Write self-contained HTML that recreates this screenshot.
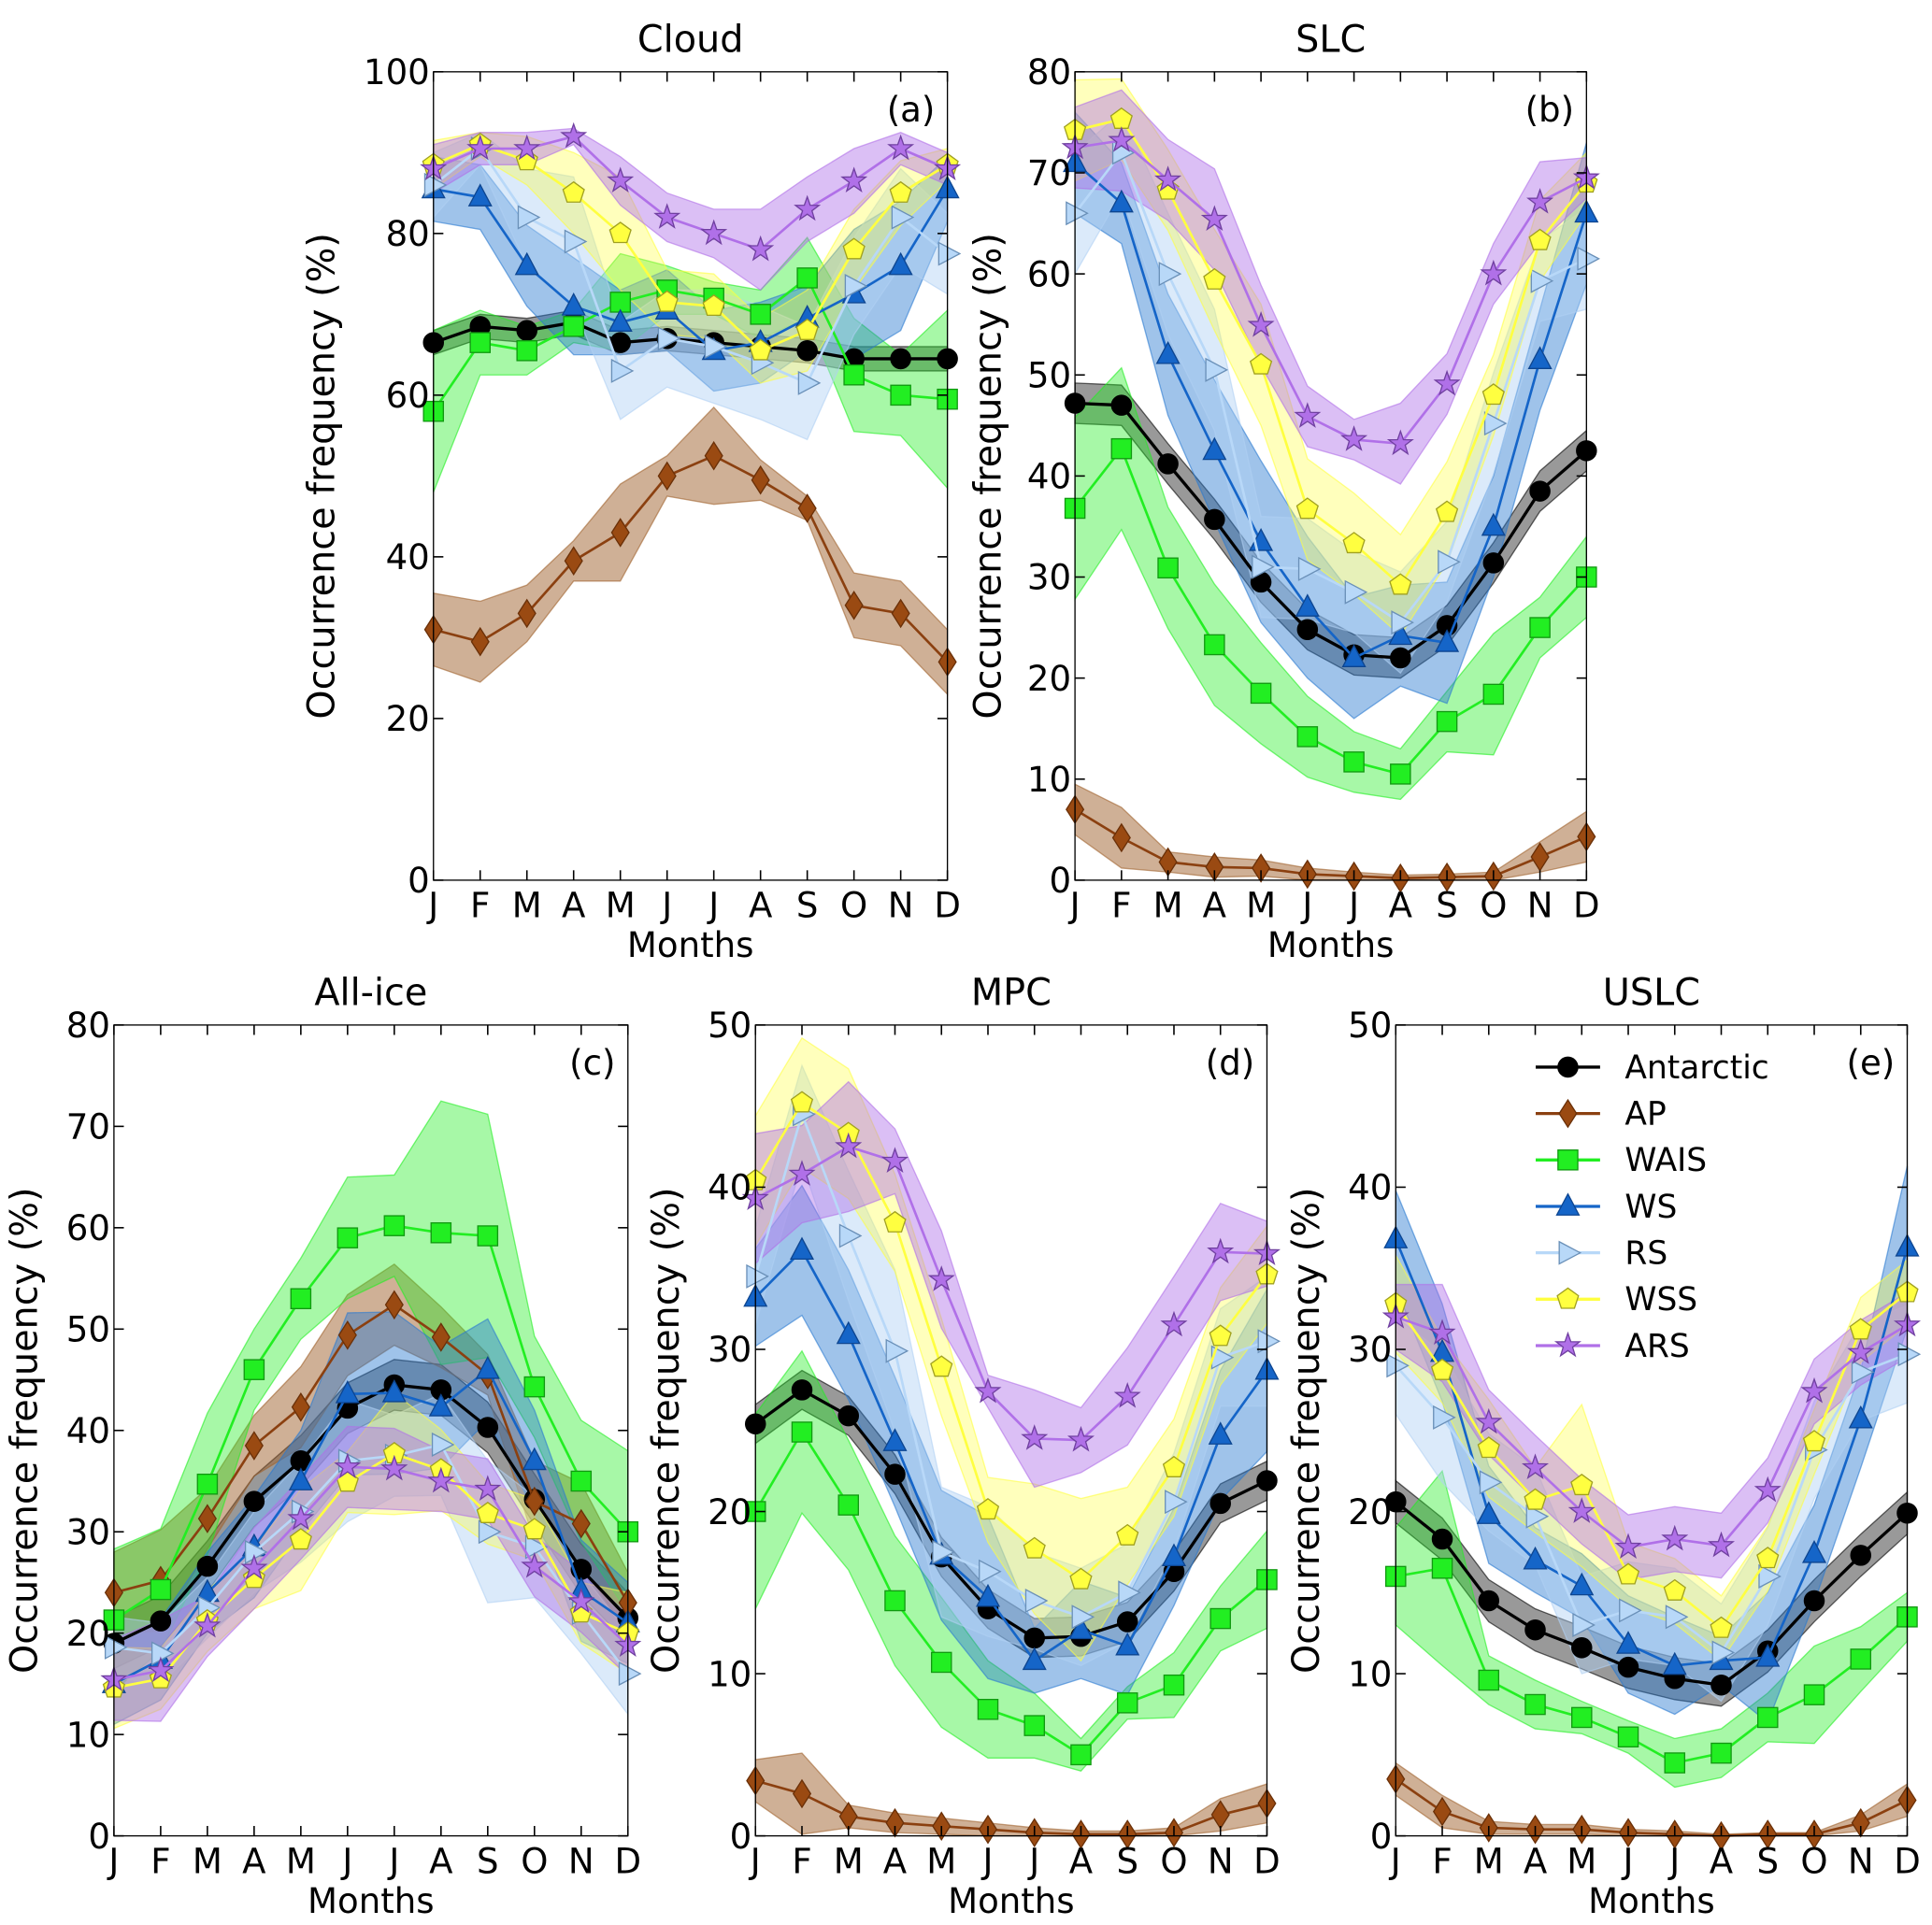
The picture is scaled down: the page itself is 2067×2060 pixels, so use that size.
<!DOCTYPE html>
<html><head><meta charset="utf-8"><style>
html,body{margin:0;padding:0;background:#fff;}
svg{display:block;font-family:"DejaVu Sans","Liberation Sans",sans-serif;}
</style></head><body>
<svg id="chart" width="2067" height="2060" viewBox="0 0 1560 1555" preserveAspectRatio="none" xmlns="http://www.w3.org/2000/svg"></svg>
<script>
const months = ["J","F","M","A","M","J","J","A","S","O","N","D"];
const seriesNames = ["Antarctic","AP","WAIS","WS","RS","WSS","ARS"];
const panelTitles = ["Cloud","SLC","All-ice","MPC","USLC"];
const panelLetters = ["(a)","(b)","(c)","(d)","(e)"];
const yMax = [100,80,80,50,50];
const yStep = [20,10,10,10,10];

// Cloud
const cloudAntarctic = [66.5,68.5,68,69,66.5,67,66.5,66,65.5,64.5,64.5,64.5];
const cloudAP = [31,29.5,33,39.5,43,50,52.5,49.5,46,34,33,27];
const cloudWAIS = [58,66.5,65.5,68.5,71.5,73,72,70,74.5,62.5,60,59.5];
const cloudWS = [85.5,84.5,76,71,69,70.5,65.5,66.5,69.5,72.5,76,85.5];
const cloudRS = [86,90.5,82,79,63,67,66,64,61.5,73.5,82,77.5];
const cloudWSS = [88.5,91,89,85,80,71.5,71,65.5,68,78,85,88.5];
const cloudARS = [88,90.5,90.5,92,86.5,82,80,78,83,86.5,90.5,88];
const cloudSpread = [
 [1.5,1.5,1.5,1.5,1.5,1.5,1.5,1.5,1.5,1.5,1.5,1.5],
 [4.5,5,3.5,2.5,6,2.5,6,2.5,1.5,4,4,4],
 [10,4,3,2,6,3,2,3,5,7,5,11],
 [4,4,5,6,4,5,5,5,4,8,8,4],
 [4,2,6,8,6,6,7,7,7,6,6,5],
 [3,1.5,3,5,7,4,4,4,5,5,4,2],
 [3,2,2,1,3,3,3,5,4,4,2,2]];
// SLC
const slcAntarctic = [47.2,47,41.2,35.7,29.5,24.8,22.3,22,25.2,31.4,38.5,42.5];
const slcAP = [7,4.2,1.8,1.3,1.2,0.6,0.4,0.2,0.3,0.4,2.3,4.3];
const slcWAIS = [36.8,42.7,30.9,23.3,18.5,14.2,11.7,10.5,15.7,18.4,25,30];
const slcWS = [71,67,52,42.5,33.5,27,22,24.2,23.5,35,51.5,66];
const slcRS = [66,72,60,50.5,31,30.8,28.5,25.5,31.5,45.2,59.3,61.5];
const slcWSS = [74.2,75.3,68.3,59.4,51,36.7,33.3,29.2,36.4,48,63.3,69];
const slcARS = [72.5,73.2,69.3,65.4,54.9,45.9,43.6,43.2,49.1,60,67.1,69.5];
const slcSpread = [
 [2,2,2,2,2,2,2,2,2,2,2,2],
 [2.5,3,1,1,0.8,0.6,0.4,0.3,0.3,0.4,1.5,2.5],
 [9,8,6,6,5,4,3,2.5,3,6,3,4],
 [5,4,6,7,8,7,6,5,6,5,5,7],
 [6,4,6,6,5,5,4,5,4,5,4,5],
 [5,4,4,5,6,5,5,5,5,4,4,3],
 [4,5,4,5,4,3,2,4,3,3,4,2]];
// All-ice
const iceAntarctic = [19,21.2,26.6,33,37,42.2,44.5,44,40.3,33.2,26.3,21.5];
const iceAP = [24,25.2,31.3,38.5,42.3,49.4,52.4,49.2,45.5,33,30.8,23];
const iceWAIS = [21.3,24.3,34.7,46,53,59,60.2,59.5,59.2,44.3,35,30];
const iceWS = [15,17.4,24,28.5,35,43.6,43.7,42.3,46,37,24.2,21];
const iceRS = [18.6,18,22.5,28,32,37,37.5,38.6,30,28.5,22,16];
const iceWSS = [14.6,15.5,21.2,25.4,29.2,34.9,37.7,36.1,31.8,30.2,22,20];
const iceARS = [15.4,16.3,20.7,26.4,31.3,36.4,36.2,35,34.2,26.6,23.1,18.8];
const iceSpread = [
 [2.5,2.5,2.5,2.5,2.5,2.5,2.5,2.5,2.5,2.5,2.5,2.5],
 [4,5,3,3,4,4,4,3,2,4,4,3],
 [7,6,7,4,4,6,5,13,12,5,6,8],
 [4,4,4,5,5,8,8,6,5,5,5,4],
 [3,3,3,4,5,6,4,5,7,5,4,4],
 [4,3,3,3,5,3,6,4,3,3,3,4],
 [4,5,3,4,4,4,4,3,3,3,3,3]];
// MPC
const mpcAntarctic = [25.4,27.5,25.9,22.3,17.2,14,12.2,12.3,13.2,16.3,20.5,21.9];
const mpcAP = [3.4,2.6,1.2,0.8,0.6,0.4,0.2,0.1,0.1,0.2,1.3,2];
const mpcWAIS = [20,24.9,20.4,14.5,10.7,7.8,6.8,5,8.2,9.3,13.4,15.8];
const mpcWS = [33.2,36.1,30.9,24.3,17.3,14.7,10.8,12.7,11.7,17.2,24.7,28.7];
const mpcRS = [34.5,44.5,37,29.9,17.5,16.3,14.5,13.5,15,20.6,29.5,30.5];
const mpcWSS = [40.4,45.2,43.3,37.8,28.9,20.1,17.7,15.8,18.5,22.7,30.8,34.6];
const mpcARS = [39.3,40.8,42.5,41.6,34.3,27.4,24.5,24.4,27.1,31.5,36,35.9];
const mpcSpread = [
 [1.2,1.2,1.2,1.2,1.2,1.2,1.2,1.2,1.2,1.2,1.2,1.2],
 [1.3,2.5,0.7,0.6,0.5,0.4,0.3,0.2,0.2,0.3,1,1.2],
 [6,5,4,4,4,3,2,1,1,2,2,3],
 [3,4,4,4,4,5,2,3,3,3,4,5],
 [3,3,4,5,4,4,3,3,3,3,3,4],
 [4,4,4,3,3,2,4,5,3,3,3,3],
 [4,3,4,2,3,1,3,2,3,3,3,2]];
// USLC
const uslcAntarctic = [20.6,18.3,14.5,12.7,11.6,10.4,9.7,9.3,11.4,14.5,17.3,19.9];
const uslcAP = [3.5,1.5,0.5,0.4,0.4,0.2,0.1,0.0,0.1,0.1,0.8,2.2];
const uslcWAIS = [16,16.5,9.6,8.1,7.3,6.1,4.5,5.1,7.3,8.7,10.9,13.5];
const uslcWS = [36.8,29.8,19.8,17,15.4,11.8,10.5,10.8,11,17.4,25.7,36.3];
const uslcRS = [29,25.8,21.8,19.7,13,13.9,13.5,11.3,16,23.8,28.6,29.7];
const uslcWSS = [32.8,28.7,23.9,20.7,21.6,16.1,15.1,12.8,17.1,24.3,31.2,33.5];
const uslcARS = [32,31,25.5,22.7,20,17.8,18.3,17.9,21.3,27.4,29.8,31.5];
const uslcSpread = [
 [1.3,1.3,1.3,1.3,1.3,1.3,1.3,1.3,1.3,1.3,1.3,1.3],
 [1,1,0.4,0.3,0.3,0.2,0.2,0.1,0.1,0.1,0.5,1],
 [3,6,1.5,1.5,1,1,1.5,1.5,1.5,3,2,1.5],
 [3,3,3,2,2,3,3,1.5,4,3,3,5],
 [3,4,3,3,3,3,3,3,3,3,3,3],
 [3,2,3,2,5,2,2,2,2,2,2,2],
 [2,3,2,2,2,2,2,2,2,2,2,2]];

const panelSeries = [
 [cloudAntarctic,cloudAP,cloudWAIS,cloudWS,cloudRS,cloudWSS,cloudARS],
 [slcAntarctic,slcAP,slcWAIS,slcWS,slcRS,slcWSS,slcARS],
 [iceAntarctic,iceAP,iceWAIS,iceWS,iceRS,iceWSS,iceARS],
 [mpcAntarctic,mpcAP,mpcWAIS,mpcWS,mpcRS,mpcWSS,mpcARS],
 [uslcAntarctic,uslcAP,uslcWAIS,uslcWS,uslcRS,uslcWSS,uslcARS]];
const panelSpreads = [cloudSpread,slcSpread,iceSpread,mpcSpread,uslcSpread];

// layout (styling, not data)
const boxes = [
 {x0:350,x1:765,y0:58,y1:711,yl:270},
 {x0:868,x1:1281,y0:58,y1:711,yl:808},
 {x0:92,x1:507,y0:828,y1:1483,yl:30},
 {x0:610,x1:1023,y0:828,y1:1483,yl:548},
 {x0:1127,x1:1540,y0:828,y1:1483,yl:1065}];
const styles = [
 {line:"#000000",fill:"#000000",band:"#000000",ba:0.4,stroke:"#000",m:"circle"},
 {line:"#8b4010",fill:"#9a4a12",band:"#a0622d",ba:0.5,stroke:"#6a3008",m:"diamond"},
 {line:"#22ee22",fill:"#22ee22",band:"#22ee22",ba:0.4,stroke:"#119911",m:"square"},
 {line:"#1565c8",fill:"#1565c8",band:"#2a7ad0",ba:0.45,stroke:"#0d4590",m:"tri"},
 {line:"#b8d8f8",fill:"#b8d8f8",band:"#b0d0f4",ba:0.45,stroke:"#6a90b8",m:"right"},
 {line:"#ffff40",fill:"#ffff40",band:"#ffff40",ba:0.35,stroke:"#a0a020",m:"pent"},
 {line:"#b070e8",fill:"#b070e8",band:"#b070e8",ba:0.45,stroke:"#7040a0",m:"star"}];

const svg = document.getElementById('chart');
const NS = "http://www.w3.org/2000/svg";
function mk(tag, attrs, parent){
  const e = document.createElementNS(NS, tag);
  for (const k in attrs) e.setAttribute(k, attrs[k]);
  (parent||svg).appendChild(e);
  return e;
}
function marker(g, type, x, y, st){
  let e;
  const c = {fill:st.fill, stroke:st.stroke, "stroke-width":1};
  if (type==="circle") e = mk('circle', Object.assign({cx:x,cy:y,r:8}, c), g);
  else if (type==="square") e = mk('rect', Object.assign({x:x-8,y:y-8,width:16,height:16}, c), g);
  else {
    let pts=[];
    if (type==="diamond") pts=[[0,-11],[7,0],[0,11],[-7,0]];
    else if (type==="tri") pts=[[0,-10],[9,7],[-9,7]];
    else if (type==="right") pts=[[10,0],[-7,-9],[-7,9]];
    else if (type==="pent"){ for(let i=0;i<5;i++){const a=-Math.PI/2+i*2*Math.PI/5; pts.push([9*Math.cos(a),9*Math.sin(a)]);} }
    else if (type==="star"){ for(let i=0;i<10;i++){const a=-Math.PI/2+i*Math.PI/5; const r=i%2?4:10; pts.push([r*Math.cos(a),r*Math.sin(a)]);} }
    e = mk('polygon', Object.assign({points:pts.map(p=>(x+p[0])+","+(y+p[1])).join(" ")}, c), g);
  }
  
  
  return e;
}

boxes.forEach((b, p) => {
  const g = mk('g', {});
  
  
  const xs = i => b.x0 + (b.x1 - b.x0) * i / 11;
  const ys = v => b.y1 - (b.y1 - b.y0) * v / yMax[p];
  const data = panelSeries[p], spr = panelSpreads[p];
  // bands
  data.forEach((vals, s) => {
    const up = vals.map((v,i)=>xs(i)+","+ys(Math.min(yMax[p], v+spr[s][i])));
    const lo = vals.map((v,i)=>xs(i)+","+ys(Math.max(0, v-spr[s][i]))).reverse();
    const band = mk('polygon', {points: up.concat(lo).join(" "), fill: styles[s].band, "fill-opacity": styles[s].ba, stroke: styles[s].band, "stroke-opacity":0.6, "stroke-width":1}, g);
    
    
  });
  // lines and markers
  data.forEach((vals, s) => {
    const line = mk('polyline', {points: vals.map((v,i)=>xs(i)+","+ys(v)).join(" "), fill:"none", stroke: styles[s].line, "stroke-width": s===0?2.5:2}, g);
    
    
    vals.forEach((v,i)=> marker(g, styles[s].m, xs(i), ys(v), styles[s]));
  });
  // frame
  const fr = mk('rect', {x:b.x0, y:b.y0, width:b.x1-b.x0, height:b.y1-b.y0, fill:"none", stroke:"#000", "stroke-width":1}, g);
  
  
  // x ticks
  months.forEach((m,i) => {
    const x = xs(i);
    mk('line', {x1:x, x2:x, y1:b.y1, y2:b.y1-8, stroke:"#000", "stroke-width":1.2}, g);
    mk('line', {x1:x, x2:x, y1:b.y0, y2:b.y0+8, stroke:"#000", "stroke-width":1.2}, g);
    const t = mk('text', {x:x, y:b.y1+30, "text-anchor":"middle", "font-size":28}, g);
    t.textContent = m;
    
    
  });
  // y ticks
  for (let v = 0; v <= yMax[p]; v += yStep[p]) {
    const y = ys(v);
    mk('line', {x1:b.x0, x2:b.x0+8, y1:y, y2:y, stroke:"#000", "stroke-width":1.2}, g);
    mk('line', {x1:b.x1, x2:b.x1-8, y1:y, y2:y, stroke:"#000", "stroke-width":1.2}, g);
    const t = mk('text', {x:b.x0-3, y:y+10, "text-anchor":"end", "font-size":28}, g);
    t.textContent = v;
    
    
  }
  const tt = mk('text', {x:(b.x0+b.x1)/2, y:b.y0-16, "text-anchor":"middle", "font-size":30}, g);
  tt.textContent = panelTitles[p];
  
  
  const pl = mk('text', {x:b.x1-10, y:b.y0+40, "text-anchor":"end", "font-size":28}, g);
  pl.textContent = panelLetters[p];
  
  
  const xl = mk('text', {x:(b.x0+b.x1)/2, y:b.y1+62, "text-anchor":"middle", "font-size":28}, g);
  xl.textContent = "Months";
  
  
  const cy = (b.y0+b.y1)/2;
  const yl = mk('text', {x:b.yl, y:cy, "text-anchor":"middle", "font-size":30, transform:"rotate(-90 "+b.yl+" "+cy+")"}, g);
  yl.textContent = "Occurrence frequency (%)";
  
  
});

// legend in panel e
const lg = mk('g', {});


seriesNames.forEach((n, s) => {
  const y = 862 + s * 37.5;
  const row = mk('g', {}, lg);
  
  
  mk('line', {x1:1240, x2:1292, y1:y, y2:y, stroke:styles[s].line, "stroke-width":2.5}, row);
  marker(row, styles[s].m, 1266, y, styles[s]);
  const t = mk('text', {x:1312, y:y+9, "font-size":26}, row);
  t.textContent = n;
  
  
});
</script>
</body></html>
